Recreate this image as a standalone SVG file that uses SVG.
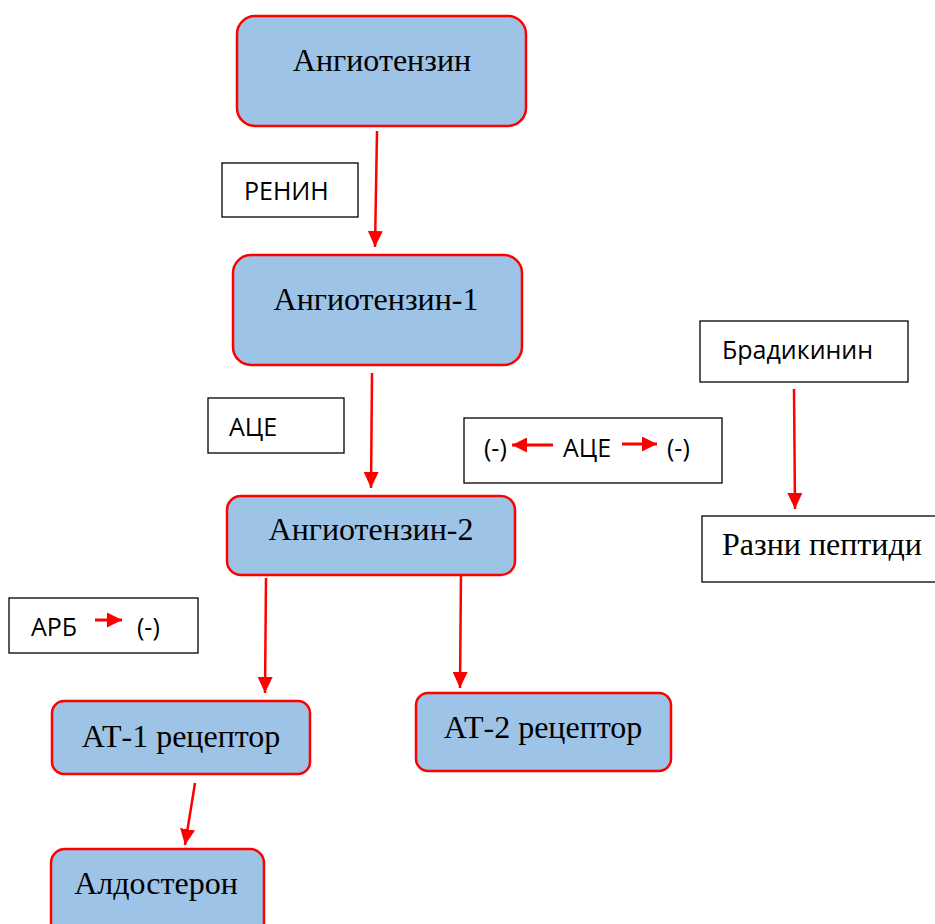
<svg xmlns="http://www.w3.org/2000/svg" width="935" height="924" viewBox="0 0 935 924">
<style>
.node{fill:#9DC3E6;stroke:#FF0000;stroke-width:2.5}
.box{fill:#FFFFFF;stroke:#000000;stroke-width:1.3}
.serif{font-family:"Liberation Serif","Times New Roman",serif;font-size:32px;fill:#000}
.sans{font-family:"Open Sans","Liberation Sans",sans-serif;font-size:25px;fill:#000}
.conn{stroke:#FF0000;stroke-width:2.5;fill:none;marker-end:url(#ah)}
.small{stroke:#FF0000;stroke-width:3;fill:none;marker-end:url(#ahs)}
</style>
<defs>
<marker id="ah" viewBox="0 0 16 15" refX="16" refY="7.5" markerWidth="16" markerHeight="15" markerUnits="userSpaceOnUse" orient="auto">
<path d="M0,0 L16,7.5 L0,15 Z" fill="#FF0000"/>
</marker>
<marker id="ahs" viewBox="0 0 15 15" refX="15" refY="7.5" markerWidth="15" markerHeight="15" markerUnits="userSpaceOnUse" orient="auto">
<path d="M0,0 L15,7.5 L0,15 Z" fill="#FF0000"/>
</marker>
</defs>
<rect width="935" height="924" fill="#FFFFFF"/>
<g id="connectors">
<line class="conn" x1="377" y1="131" x2="375" y2="247"/>
<line class="conn" x1="372" y1="373" x2="371" y2="488"/>
<line class="conn" x1="266" y1="578" x2="265" y2="693"/>
<line class="conn" x1="461" y1="572" x2="460" y2="688"/>
<line class="conn" x1="195" y1="783" x2="185" y2="845"/>
<line class="conn" x1="794" y1="389" x2="795" y2="509"/>
</g>
<g id="angiotenzin">
<rect class="node" x="237" y="16" width="289" height="110" rx="18"/>
<text class="serif" x="382" y="71" text-anchor="middle">Ангиотензин</text>
</g>
<g id="renin">
<rect class="box" x="222" y="163" width="136" height="54"/>
<text class="sans" x="244" y="200">РЕНИН</text>
</g>
<g id="angiotenzin1">
<rect class="node" x="233" y="255" width="289" height="110" rx="18"/>
<text class="serif" x="376" y="310" text-anchor="middle">Ангиотензин-1</text>
</g>
<g id="ace">
<rect class="box" x="208" y="398" width="136" height="55"/>
<text class="sans" x="229" y="436">АЦЕ</text>
</g>
<g id="ace-inhibit">
<rect class="box" x="464" y="418" width="258" height="65"/>
<text class="sans" x="484" y="457">(-)</text>
<line class="small" x1="553" y1="445" x2="512" y2="445"/>
<text class="sans" x="563" y="457">АЦЕ</text>
<line class="small" x1="622" y1="444" x2="657" y2="444"/>
<text class="sans" x="667" y="457">(-)</text>
</g>
<g id="bradikinin">
<rect class="box" x="700" y="321" width="208" height="61"/>
<text class="sans" x="722" y="359">Брадикинин</text>
</g>
<g id="peptidi">
<rect class="box" x="702" y="516" width="240" height="66"/>
<text class="serif" x="722" y="555">Разни пептиди</text>
</g>
<g id="angiotenzin2">
<rect class="node" x="227" y="496" width="288" height="79" rx="14"/>
<text class="serif" x="371" y="540" text-anchor="middle">Ангиотензин-2</text>
</g>
<g id="arb">
<rect class="box" x="9" y="598" width="189" height="55"/>
<text class="sans" x="31" y="636">АРБ</text>
<line class="small" x1="95" y1="620" x2="122" y2="620"/>
<text class="sans" x="137" y="636">(-)</text>
</g>
<g id="at1">
<rect class="node" x="52" y="701" width="258" height="73" rx="12"/>
<text class="serif" x="181" y="747" text-anchor="middle">АТ-1 рецептор</text>
</g>
<g id="at2">
<rect class="node" x="416" y="693" width="255" height="78" rx="12"/>
<text class="serif" x="543" y="738" text-anchor="middle">АТ-2 рецептор</text>
</g>
<g id="aldosteron">
<rect class="node" x="51" y="849" width="213" height="90" rx="14"/>
<text class="serif" x="156" y="894" text-anchor="middle">Алдостерон</text>
</g>
</svg>
